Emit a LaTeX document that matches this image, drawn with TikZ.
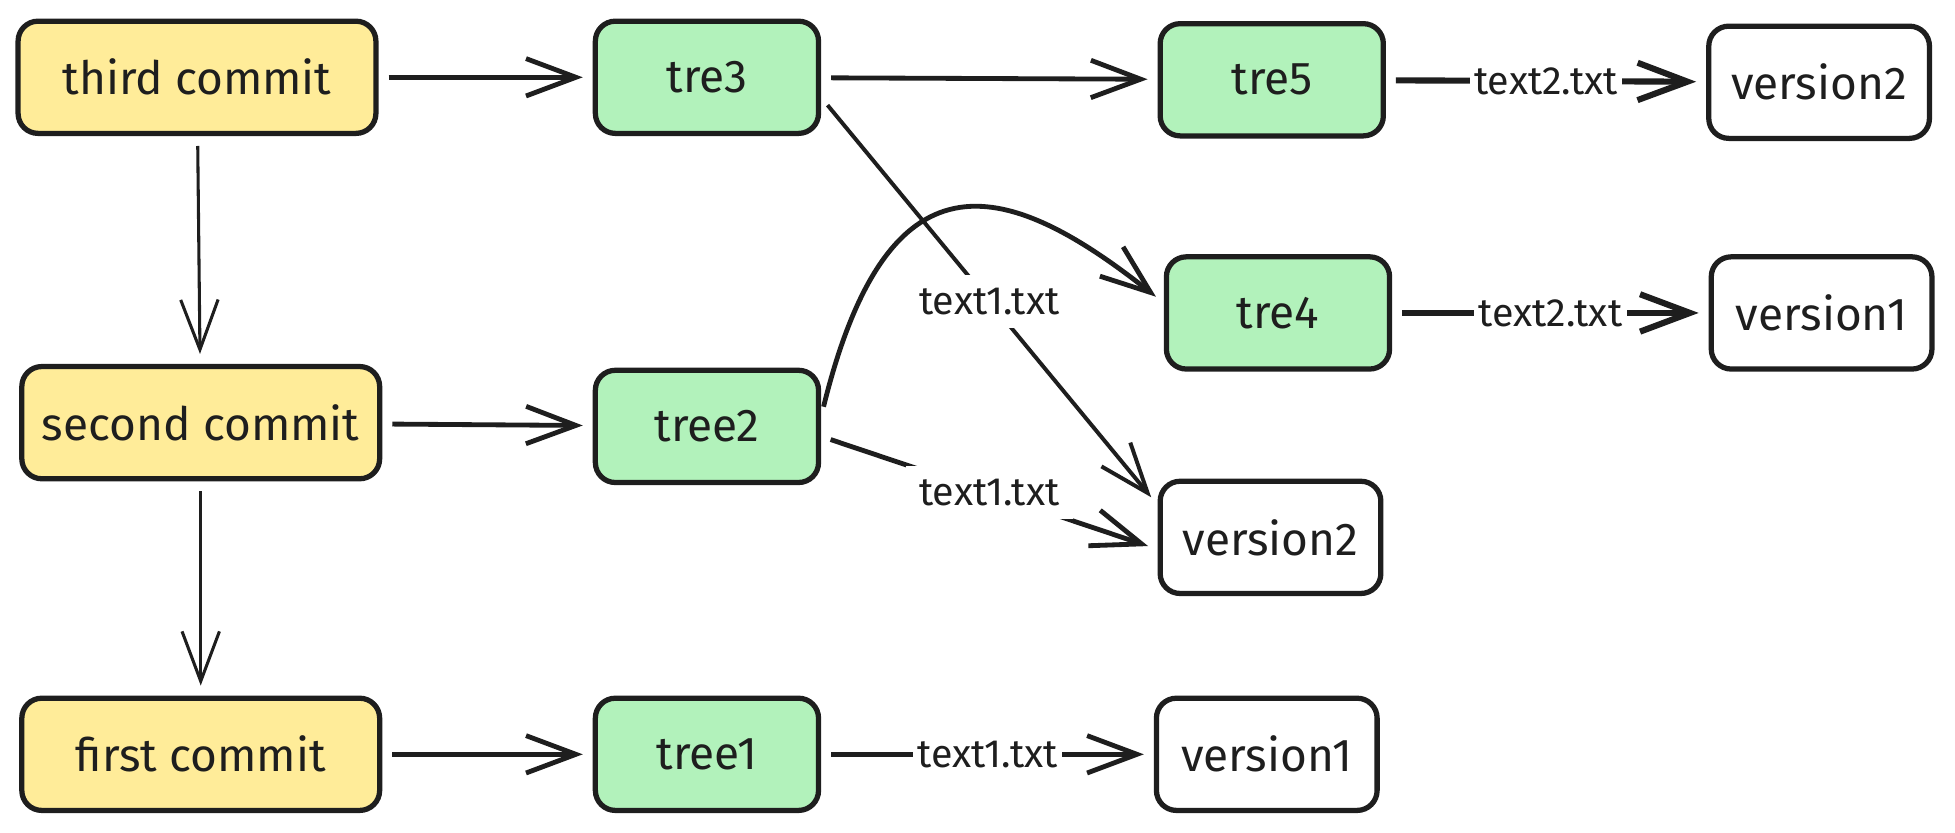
\documentclass[tikz,border=0pt]{standalone}
\usepackage{fontspec}
\setmainfont{Fira Sans}
\usetikzlibrary{arrows.meta}
\definecolor{ink}{HTML}{1E1E1E}
\definecolor{commitfill}{HTML}{FFEC99}
\definecolor{treefill}{HTML}{B2F2BB}
\tikzset{
 box/.style={draw=ink, line width=1.2pt, rounded corners=1.6mm, minimum height=0.9cm, text=ink, font=\fontsize{10.5}{12}\selectfont},
 commitbox/.style={box, fill=commitfill, minimum width=2.87cm},
 treebox/.style={box, fill=treefill, minimum width=1.79cm},
 blobbox/.style={box, fill=white, minimum width=1.77cm},
 pointer/.style={draw=ink, line width=1.1pt, -{Straight Barb[length=4mm,width=3mm]}, shorten >=0.8mm, shorten <=0.8mm},
 thinpointer/.style={pointer, line width=0.7pt},
 filelabel/.style={fill=white, text=ink, inner sep=1pt, font=\fontsize{9}{11}\selectfont},
}

\begin{document}
\begin{tikzpicture}
\useasboundingbox (0,0) rectangle (15.68,-6.68);
% commits
\node[commitbox] (c3) at (1.58,-0.62) {third commit};
\node[commitbox] (c2) at (1.61,-3.39) {second commit};
\node[commitbox] (c1) at (1.61,-6.05) {first commit};
% trees
\node[treebox] (t3) at (5.67,-0.62) {tre3};
\node[treebox] (t2) at (5.67,-3.42) {tree2};
\node[treebox] (t1) at (5.67,-6.05) {tree1};
\node[treebox] (t5) at (10.20,-0.64) {tre5};
\node[treebox] (t4) at (10.25,-2.51) {tre4};
% blobs
\node[blobbox] (v2a) at (14.59,-0.66) {version2};
\node[blobbox] (v1a) at (14.61,-2.51) {version1};
\node[blobbox] (v2b) at (10.19,-4.31) {version2};
\node[blobbox] (v1b) at (10.16,-6.05) {version1};

\draw[pointer] (c3) -- (t3);
\draw[pointer] (c2) -- (t2);
\draw[pointer] (c1) -- (t1);
\draw[thinpointer] (c3) -- (c2);
\draw[thinpointer] (c2) -- (c1);

\draw[pointer] (t3) -- (t5);
\draw[pointer, line width=0.9pt] (t3.-10) -- node[filelabel, inner sep=3pt] {text1.txt} (v2b.164);
\draw[pointer] (t2.5) .. controls +(0.53,2.15) and +(-1.30,1.03) .. (t4.175);
\draw[pointer] (t2.-5) -- node[filelabel, inner sep=3pt] {text1.txt} (v2b.186);
\draw[pointer] (t1) -- node[filelabel] {text1.txt} (v1b);
\draw[pointer, line width=1.4pt] (t5) -- node[filelabel] {text2.txt} (v2a);
\draw[pointer, line width=1.4pt] (t4) -- node[filelabel] {text2.txt} (v1a);
\end{tikzpicture}
\end{document}
